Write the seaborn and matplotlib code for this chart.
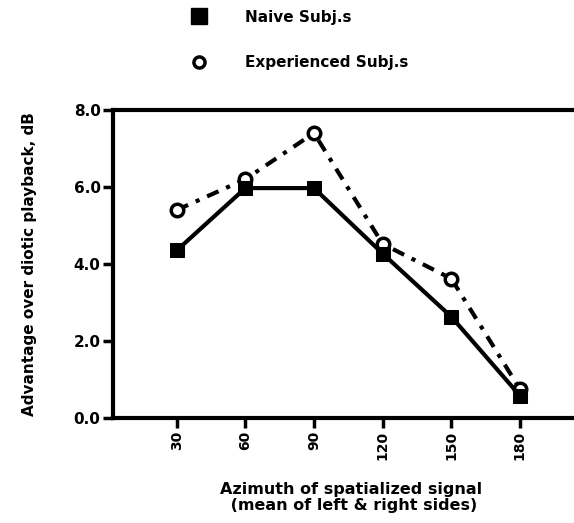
import matplotlib
matplotlib.use("Agg")
import matplotlib.pyplot as plt
import pandas as pd
import seaborn as sns
from matplotlib.lines import Line2D

azimuth = [30, 60, 90, 120, 150, 180]
naive = [4.35, 5.97, 5.97, 4.27, 2.63, 0.58]
experienced = [5.4, 6.2, 7.4, 4.52, 3.62, 0.75]

sns.set_theme(style="white")
plt.rcParams["font.family"] = ["DejaVu Sans"]
plt.rcParams["font.weight"] = "bold"
plt.rcParams["text.color"] = "black"
plt.rcParams["axes.labelcolor"] = "black"
plt.rcParams["xtick.color"] = "black"
plt.rcParams["ytick.color"] = "black"

df = pd.DataFrame({"azimuth": azimuth, "naive": naive, "experienced": experienced})

fig = plt.figure(figsize=(5.74, 5.23), dpi=100)
ax = fig.add_axes([0.197, 0.2008, 0.83, 0.589])

sns.lineplot(data=df, x="azimuth", y="experienced", ax=ax, color="black",
             linewidth=3, linestyle=(0, (3, 2, 1, 2)), marker="o", markersize=9,
             markerfacecolor="white", markeredgecolor="black", markeredgewidth=2.5)
sns.lineplot(data=df, x="azimuth", y="naive", ax=ax, color="black",
             linewidth=3, marker="s", markersize=10, markerfacecolor="black",
             markeredgecolor="black")

ax.set_xlim(2.2, 210.4)
ax.set_ylim(0, 8)
ax.set_xticks(azimuth)
ax.set_xticklabels([str(a) for a in azimuth], rotation=90, fontsize=10, fontweight="bold")
ax.set_yticks([0, 2, 4, 6, 8])
ax.set_yticklabels(["0.0", "2.0", "4.0", "6.0", "8.0"], fontsize=11, fontweight="bold")
ax.tick_params(axis="both", direction="out", length=7, width=2.5, color="black",
               bottom=True, left=True, pad=2)
for side in ["left", "bottom", "top", "right"]:
    ax.spines[side].set_linewidth(3)
    ax.spines[side].set_color("black")

ax.set_xlabel("Azimuth of spatialized signal\n (mean of left & right sides)",
              fontsize=11.5, fontweight="bold", labelpad=16, linespacing=1.1)
ax.set_ylabel("Advantage over diotic playback, dB", fontsize=11, fontweight="bold",
              labelpad=26)

handles = [
    Line2D([], [], linestyle="none", marker="s", markersize=11, color="black"),
    Line2D([], [], linestyle="none", marker="o", markersize=8, markerfacecolor="white",
           markeredgecolor="black", markeredgewidth=2.5),
]
fig.legend(handles, ["Naive Subj.s", "Experienced Subj.s"], loc="upper left",
           bbox_to_anchor=(0.296, 1.008), frameon=False,
           handletextpad=2.0, labelspacing=2.0, prop={"weight": "bold", "size": 11})

fig.savefig("out.png", dpi=100)
